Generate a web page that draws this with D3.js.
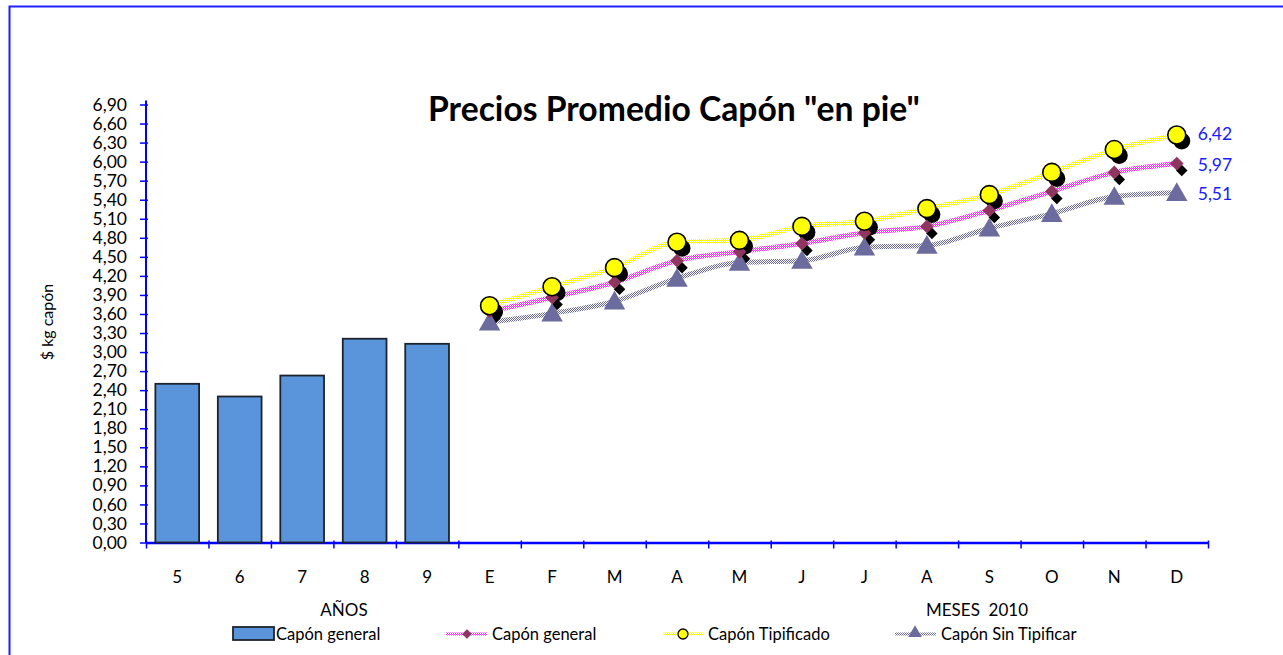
<!DOCTYPE html>
<html>
<head>
<meta charset="utf-8">
<script src="https://cdn.jsdelivr.net/npm/d3@7"></script>
<style>
  body { margin: 0; background: #fff; }
  text { font-family: Lato, "Open Sans", sans-serif; }
</style>
</head>
<body>
<svg id="chart" width="1283" height="655"></svg>
<script>
// categories: years (bars) then months of 2010 (lines)
const years = ['5', '6', '7', '8', '9'];
const months = ['E', 'F', 'M', 'A', 'M', 'J', 'J', 'A', 'S', 'O', 'N', 'D'];
const yearValues = [2.50, 2.30, 2.63, 3.21, 3.13];
const generalValues = [3.64, 3.86, 4.10, 4.44, 4.58, 4.71, 4.88, 4.98, 5.23, 5.53, 5.83, 5.97];
const tipificadoValues = [3.73, 4.03, 4.33, 4.73, 4.76, 4.98, 5.06, 5.26, 5.48, 5.83, 6.19, 6.42];
const sinTipificarValues = [3.47, 3.61, 3.80, 4.16, 4.41, 4.44, 4.65, 4.68, 4.95, 5.18, 5.45, 5.51];
const yTicks = d3.range(0, 24).map(i => +(i * 0.3).toFixed(2));
const legendNames = ['Capón general', 'Capón general', 'Capón Tipificado', 'Capón Sin Tipificar'];

const svg = d3.select('#chart');
const fmt = v => d3.format('.2f')(v).replace('.', ',');

// slots: first 5 are years, then 12 months (keys kept unique)
const slots = years.map((d, i) => 'y' + i).concat(months.map((d, i) => 'm' + i));
const slotLabels = years.concat(months);

const plotLeft = 146, plotRight = 1208, plotTop = 104.5, plotBottom = 542.5;

const x = d3.scaleBand().domain(slots).range([plotLeft, plotRight]).paddingInner(0.3).paddingOuter(0.15);
const y = d3.scaleLinear().domain([0, 6.9]).range([plotBottom, plotTop]);
const cx = k => x(k) + x.bandwidth() / 2;

// chart frame
svg.append('path')
  .attr('d', 'M9.5,655 L9.5,6.5 L1283,6.5')
  .attr('fill', 'none').attr('stroke', '#1f1fff').attr('stroke-width', 2);

// checkered patterns for the line strokes
const defs = svg.append('defs');
function checker(id, col) {
  const p = defs.append('pattern').attr('id', id).attr('patternUnits', 'userSpaceOnUse')
    .attr('width', 2).attr('height', 2);
  p.append('rect').attr('width', 2).attr('height', 2).attr('fill', '#fff');
  p.append('rect').attr('width', 1).attr('height', 1).attr('fill', col);
  p.append('rect').attr('x', 1).attr('y', 1).attr('width', 1).attr('height', 1).attr('fill', col);
}
checker('patPink', '#ff33ff');
checker('patYellow', '#ffff00');
checker('patGray', '#6a6a9a');

// title
const title = svg.append('text')
  .attr('x', 674).attr('y', 121)
  .attr('text-anchor', 'middle')
  .attr('font-weight', 'bold')
  .attr('font-size', 29)
  .text('Precios Promedio Capón "en pie"');
const tw = title.node().getComputedTextLength();
title.attr('font-size', 29 * 492 / tw);

// y axis
const yAxis = svg.append('g')
  .attr('transform', 'translate(' + plotLeft + ',0)')
  .call(d3.axisLeft(y).tickValues(yTicks).tickFormat(fmt).tickSizeOuter(0).tickSize(6));
yAxis.select('.domain').attr('stroke', '#0000ff').attr('stroke-width', 2)
  .attr('d', 'M0,' + (plotTop - 4) + 'V' + plotBottom);
yAxis.selectAll('.tick line').attr('stroke', '#0000ff').attr('stroke-width', 1.5).attr('x1', 2);
yAxis.selectAll('.tick text').attr('font-size', 17.5).attr('fill', '#000').attr('x', -19)
  .style('font-family', 'Lato, sans-serif');

svg.append('text')
  .attr('transform', 'translate(53,322) rotate(-90)')
  .attr('text-anchor', 'middle').attr('font-size', 16).text('$ kg capón');

// x axis with ticks on slot boundaries
const xb = d3.scaleLinear().domain([0, slots.length]).range([plotLeft, plotRight]);
const xAxis = svg.append('g').attr('transform', 'translate(0,' + plotBottom + ')')
  .call(d3.axisBottom(xb).tickValues(d3.range(0, slots.length + 1)).tickFormat('').tickSize(6).tickSizeOuter(0));
xAxis.select('.domain').attr('stroke', '#0000ff').attr('stroke-width', 2.5);
xAxis.selectAll('.tick line').attr('stroke', '#0000ff').attr('stroke-width', 1.5).attr('y1', -2);

svg.append('g').selectAll('text').data(slots).join('text')
  .attr('x', d => cx(d)).attr('y', 583)
  .attr('text-anchor', 'middle').attr('font-size', 17)
  .text((d, i) => slotLabels[i]);

svg.append('text').attr('x', 344).attr('y', 616).attr('text-anchor', 'middle')
  .attr('font-size', 17).text('AÑOS');
svg.append('text').attr('x', 977).attr('y', 616).attr('text-anchor', 'middle')
  .attr('font-size', 17).attr('xml:space', 'preserve').text('MESES  2010');

// bars
svg.append('g').selectAll('rect').data(yearValues).join('rect')
  .attr('x', (d, i) => x(slots[i]))
  .attr('y', d => y(d))
  .attr('width', x.bandwidth())
  .attr('height', d => plotBottom - y(d))
  .attr('fill', '#5a95dc')
  .attr('stroke', '#1d232d').attr('stroke-width', 1.8);

const mk = months.map((d, i) => 'm' + i);
const line = d3.line().x((d, i) => cx(mk[i])).y(d => y(d)).curve(d3.curveMonotoneX);

svg.append('path').datum(generalValues).attr('d', line)
  .attr('fill', 'none').attr('stroke', 'url(#patPink)').attr('stroke-width', 5);
svg.append('path').datum(tipificadoValues).attr('d', line)
  .attr('fill', 'none').attr('stroke', 'url(#patYellow)').attr('stroke-width', 5);
svg.append('path').datum(sinTipificarValues).attr('d', line)
  .attr('fill', 'none').attr('stroke', 'url(#patGray)').attr('stroke-width', 5);

const diamond = d3.symbol().type(d3.symbolDiamond2).size(120);
const triangle = d3.symbol().type(d3.symbolTriangle).size(200);

// shadows
svg.append('g').selectAll('path').data(generalValues).join('path')
  .attr('d', d3.symbol().type(d3.symbolDiamond2).size(85))
  .attr('transform', (d, i) => 'translate(' + (cx(mk[i]) + 5) + ',' + (y(d) + 7) + ')')
  .attr('fill', '#000');
svg.append('g').selectAll('circle').data(tipificadoValues).join('circle')
  .attr('cx', (d, i) => cx(mk[i]) + 5).attr('cy', d => y(d) + 6).attr('r', 8.5)
  .attr('fill', '#000');

// markers
svg.append('g').selectAll('path').data(sinTipificarValues).join('path')
  .attr('d', triangle)
  .attr('transform', (d, i) => 'translate(' + cx(mk[i]) + ',' + (y(d) + 2) + ')')
  .attr('fill', '#6b6b9e');
svg.append('g').selectAll('path').data(generalValues).join('path')
  .attr('d', diamond)
  .attr('transform', (d, i) => 'translate(' + cx(mk[i]) + ',' + y(d) + ')')
  .attr('fill', '#8e3560');
svg.append('g').selectAll('circle').data(tipificadoValues).join('circle')
  .attr('cx', (d, i) => cx(mk[i])).attr('cy', d => y(d)).attr('r', 9)
  .attr('fill', '#ffff00').attr('stroke', '#000').attr('stroke-width', 1.6);

// end labels
const last = months.length - 1;
[[tipificadoValues, -1], [generalValues, 1], [sinTipificarValues, 1]].forEach(([vals, dy]) => {
  svg.append('text')
    .attr('x', cx(mk[last]) + 21).attr('y', y(vals[last]) + 6 + dy)
    .attr('font-size', 17.5).attr('fill', '#1a1aff')
    .text(fmt(vals[last]));
});

// legend
const lg = svg.append('g').attr('font-size', 16.5);
lg.append('rect').attr('x', 233).attr('y', 627).attr('width', 41).attr('height', 13)
  .attr('fill', '#5a95dc').attr('stroke', '#1d232d').attr('stroke-width', 1.8);
lg.append('text').attr('x', 276).attr('y', 640).text(legendNames[0]);

lg.append('line').attr('x1', 446).attr('x2', 487).attr('y1', 634).attr('y2', 634)
  .attr('stroke', 'url(#patPink)').attr('stroke-width', 3);
lg.append('path').attr('d', d3.symbol().type(d3.symbolDiamond2).size(60))
  .attr('transform', 'translate(467,634)').attr('fill', '#8e3560');
lg.append('text').attr('x', 492).attr('y', 640).text(legendNames[1]);

lg.append('line').attr('x1', 663).attr('x2', 704).attr('y1', 634).attr('y2', 634)
  .attr('stroke', 'url(#patYellow)').attr('stroke-width', 3);
lg.append('circle').attr('cx', 683).attr('cy', 634).attr('r', 5)
  .attr('fill', '#ffff00').attr('stroke', '#000').attr('stroke-width', 1.3);
lg.append('text').attr('x', 708).attr('y', 640).text(legendNames[2]);

lg.append('line').attr('x1', 895).attr('x2', 936).attr('y1', 634).attr('y2', 634)
  .attr('stroke', 'url(#patGray)').attr('stroke-width', 3);
lg.append('path').attr('d', d3.symbol().type(d3.symbolTriangle).size(80))
  .attr('transform', 'translate(915,633)').attr('fill', '#6b6b9e');
lg.append('text').attr('x', 941).attr('y', 640).text(legendNames[3]);
</script>
</body>
</html>
